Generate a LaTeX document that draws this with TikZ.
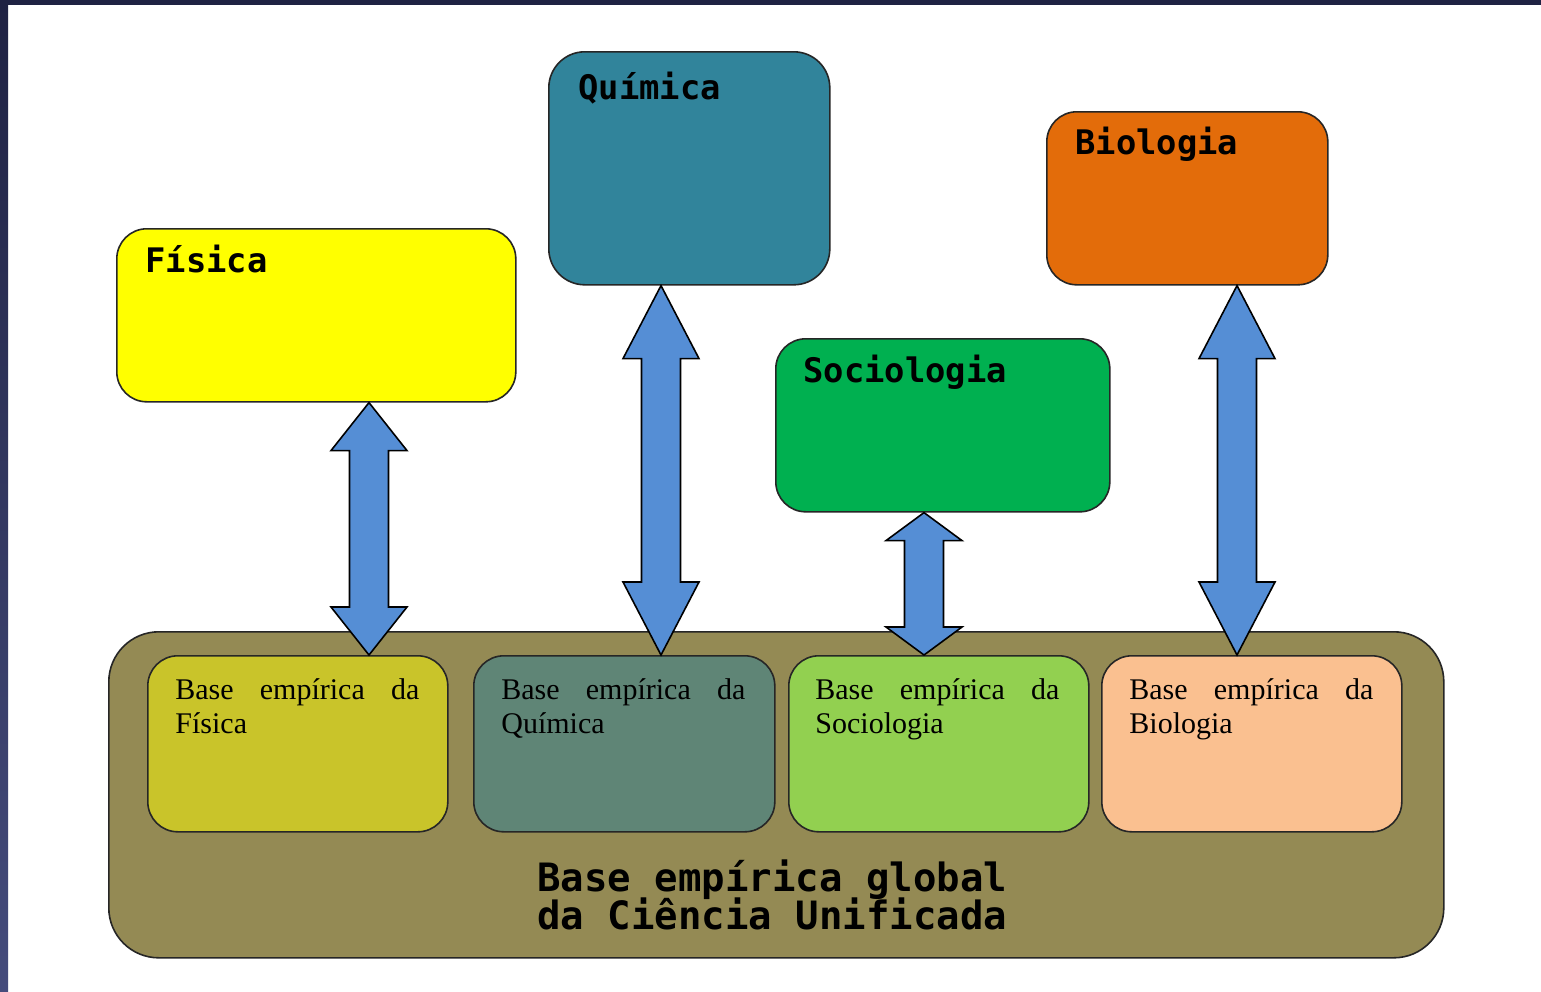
\documentclass[tikz,border=0pt]{standalone}
\usepackage{fontspec}
\setmainfont{Liberation Serif}
\newfontfamily\monob{DejaVu Sans Mono}
\usetikzlibrary{calc}
\definecolor{frametop}{HTML}{1F2243}
\definecolor{framebot}{HTML}{454C7C}
\definecolor{cfis}{HTML}{FFFF00}
\definecolor{cqui}{HTML}{31849B}
\definecolor{cbio}{HTML}{E36C0A}
\definecolor{csoc}{HTML}{00B050}
\definecolor{cglob}{HTML}{948A54}
\definecolor{cfisb}{HTML}{C9C42A}
\definecolor{cquib}{HTML}{5F8576}
\definecolor{csocb}{HTML}{92D050}
\definecolor{cbiob}{HTML}{FAC090}
\definecolor{carrow}{HTML}{558ED5}
\definecolor{edge}{HTML}{262626}
\newcommand\dblarr[4]{% #1 top anchor, #2 bottom anchor, #3 x (px), #4 head length
  \draw[arrowsty] let \p1=(#1), \p2=(#2), \p3=(#3,0) in
    (\x3,\y1) -- (\x3+19pt,\y1-#4) -- (\x3+9.75pt,\y1-#4) -- (\x3+9.75pt,\y2+#4)
    -- (\x3+19pt,\y2+#4) -- (\x3,\y2) -- (\x3-19pt,\y2+#4) -- (\x3-9.75pt,\y2+#4)
    -- (\x3-9.75pt,\y1-#4) -- (\x3-19pt,\y1-#4) -- cycle;}
\newcommand\firstline[1]{\makebox[122pt][s]{#1}}
\begin{document}
\begin{tikzpicture}[x=0.5pt,y=-0.5pt,
  box/.style={draw=edge,line width=0.8pt,rounded corners=15pt,inner sep=0pt,anchor=north west},
  toplabel/.style={anchor=base west,inner sep=0pt,font=\monob\bfseries\fontsize{16.9}{20}\selectfont},
  basetxt/.style={anchor=base west,inner sep=0pt,text width=122pt,align=left,font=\fontsize{15}{17}\selectfont},
  arrowsty/.style={fill=carrow,draw=black,line width=0.8pt,line join=miter}]
\useasboundingbox (0,0) rectangle (1541,991);
\fill[white] (0,0) rectangle (1541,991);
\shade[top color=frametop,bottom color=framebot] (0,0) rectangle (8,991);
\fill[frametop] (0,0) rectangle (1541,5);
% upper boxes
\node[box,fill=cfis,minimum width=199.5pt,minimum height=86.5pt] (fis) at (116,228) {};
\node[box,fill=cqui,minimum width=140.5pt,minimum height=116.5pt,rounded corners=18pt] (qui) at (548,51) {};
\node[box,fill=cbio,minimum width=140.5pt,minimum height=86.5pt] (bio) at (1046,111) {};
\node[box,fill=csoc,minimum width=167pt,minimum height=86.5pt] (soc) at (775,338) {};
\node[toplabel] (tfis) at (145,272) {Física};
\node[toplabel] (tqui) at (578,99) {Química};
\node[toplabel] (tbio) at (1075,154) {Biologia};
\node[toplabel] (tsoc) at (803,382) {Sociologia};
% global base
\node[box,fill=cglob,minimum width=667.5pt,minimum height=163pt,rounded corners=25pt] (glob) at (108,631) {};
\node[box,fill=cfisb,minimum width=150pt,minimum height=88pt] (fisb) at (147,655) {};
\node[box,fill=cquib,minimum width=150.5pt,minimum height=88pt] (quib) at (473,655) {};
\node[box,fill=csocb,minimum width=150pt,minimum height=88pt] (socb) at (788,655) {};
\node[box,fill=cbiob,minimum width=150pt,minimum height=88pt] (biob) at (1101,655) {};
\node[basetxt] (tfisb) at (175,699) {\firstline{Base\hfill empírica\hfill da}\\Física};
\node[basetxt] (tquib) at (501,699) {\firstline{Base\hfill empírica\hfill da}\\Química};
\node[basetxt] (tsocb) at (815,699) {\firstline{Base\hfill empírica\hfill da}\\Sociologia};
\node[basetxt] (tbiob) at (1129,699) {\firstline{Base\hfill empírica\hfill da}\\Biologia};
\node[anchor=base west,inner sep=0pt,align=left,font=\monob\bfseries\fontsize{19.5}{18}\selectfont] (tglob) at (537,929) {Base empírica global\\[-2pt]da Ciência Unificada};
% arrows
\dblarr{fis.south}{fisb.north}{369}{24pt}
\dblarr{qui.south}{quib.north}{661}{36.5pt}
\dblarr{soc.south}{socb.north}{924}{14pt}
\dblarr{bio.south}{biob.north}{1237}{36.5pt}
\end{tikzpicture}
\end{document}
